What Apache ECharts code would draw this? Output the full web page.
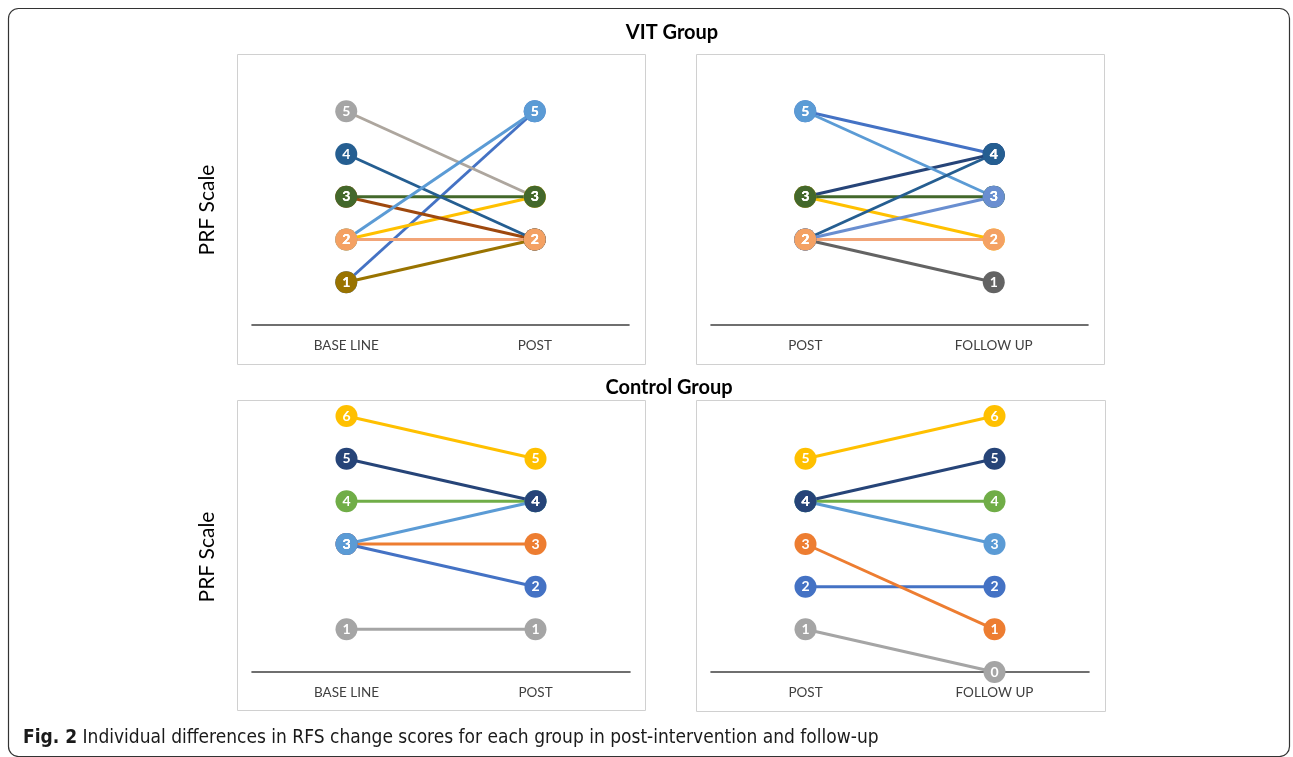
<!DOCTYPE html>
<html>
<head>
<meta charset="utf-8">
<script src="https://cdn.jsdelivr.net/npm/echarts@6/dist/echarts.min.js"></script>
<style>
html,body{margin:0;padding:0;background:#fff;}
#chart{width:1293px;height:757px;}
</style>
</head>
<body>
<div id="chart"></div>
<script>
// ---------- DATA ----------
const catBasePost = ['BASE LINE', 'POST'];
const catPostFollow = ['POST', 'FOLLOW UP'];

// VIT group: baseline -> post (one pair per participant line)
const vitBasePost = [[1,5],[1,2],[5,3],[2,3],[3,2],[3,3],[4,2],[2,5],[2,2]];
// VIT group: post -> follow up
const vitPostFollow = [[5,4],[3,4],[3,2],[2,1],[5,3],[3,3],[2,4],[2,3],[2,2]];
// Control group: baseline -> post
const ctrlBasePost = [[1,1],[6,5],[4,4],[3,3],[3,2],[3,4],[5,4]];
// Control group: post -> follow up
const ctrlPostFollow = [[1,0],[2,2],[3,1],[5,6],[4,4],[4,3],[4,5]];

const yMin = 0, yMax = 6;

// ---------- STYLES ----------
const vitBasePostColors = ['#4472C4','#997300','#A5A5A5','#FFC000','#9E480E','#43682B','#255E91','#5B9BD5','#F4A163'];
const vitBasePostLineColors = [null,null,'#ADA69E',null,null,null,null,null,'#F2A477'];
const vitPostFollowColors = ['#4472C4','#264478','#FFC000','#636363','#5B9BD5','#43682B','#255E91','#698ED0','#F4A163'];
const vitPostFollowLineColors = [null,null,null,null,null,null,null,null,'#F2A477'];
const ctrlBasePostColors = ['#A5A5A5','#FFC000','#70AD47','#ED7D31','#4472C4','#5B9BD5','#264478'];
const ctrlPostFollowColors = ['#A5A5A5','#4472C4','#ED7D31','#FFC000','#70AD47','#5B9BD5','#264478'];

const FONT = 'Lato';
const CAPFONT = '"Liberation Sans Narrow", "DejaVu Sans Condensed", sans-serif';
const grids = [
  {left: 252, top: 68.5, width: 377, height: 256.5},
  {left: 711, top: 68.5, width: 377, height: 256.5},
  {left: 252, top: 416, width: 378, height: 256},
  {left: 711, top: 416, width: 378, height: 256}
];
const panelCats = [catBasePost, catPostFollow, catBasePost, catPostFollow];
const panelData = [vitBasePost, vitPostFollow, ctrlBasePost, ctrlPostFollow];
const panelColors = [vitBasePostColors, vitPostFollowColors, ctrlBasePostColors, ctrlPostFollowColors];
const panelLineColors = [vitBasePostLineColors, vitPostFollowLineColors, [], []];

const xAxes = panelCats.map((cats, i) => ({
  type: 'category', gridIndex: i, data: cats, boundaryGap: true,
  axisLine: {show: true, lineStyle: {color: '#404040', width: 1.6}},
  axisTick: {show: false},
  axisLabel: {margin: 14, fontSize: 13.5, color: '#404040', fontFamily: FONT},
  splitLine: {show: false}
}));
const yAxes = panelCats.map((c, i) => ({
  type: 'value', gridIndex: i, min: yMin, max: yMax, show: false, splitLine: {show: false}
}));

const series = [];
panelData.forEach((pairs, p) => {
  pairs.forEach((pair, j) => {
    const col = panelColors[p][j];
    const lc = (panelLineColors[p] && panelLineColors[p][j]) || col;
    series.push({
      type: 'line', xAxisIndex: p, yAxisIndex: p, data: pair,
      symbol: 'circle', symbolSize: 22, clip: false,
      itemStyle: {color: col, borderWidth: 0},
      lineStyle: {color: lc, width: 3},
      label: {show: true, position: 'inside', color: '#fff', fontWeight: 'bold', fontSize: 14, fontFamily: FONT},
      emphasis: {disabled: true},
      silent: true
    });
  });
});

const panelBoxes = [
  {x: 237, y: 54, w: 408, h: 310},
  {x: 696, y: 54, w: 408, h: 310},
  {x: 237, y: 400, w: 408, h: 310},
  {x: 696, y: 400, w: 409, h: 311}
];

const graphic = [
  {type: 'rect', shape: {x: 8.5, y: 8.5, width: 1281, height: 748, r: 10}, style: {fill: 'none', stroke: '#333', lineWidth: 1.2}, z: -10},
  ...panelBoxes.map(b => ({type: 'rect', shape: {x: b.x + 0.5, y: b.y + 0.5, width: b.w, height: b.h}, style: {fill: 'none', stroke: '#D0D0D0', lineWidth: 1}, z: -5})),
  {type: 'text', x: 672, y: 33, style: {text: 'VIT Group', font: 'bold 20px ' + FONT, fill: '#000', textAlign: 'center', textVerticalAlign: 'middle'}},
  {type: 'text', x: 669, y: 388, style: {text: 'Control Group', font: 'bold 20px ' + FONT, fill: '#000', textAlign: 'center', textVerticalAlign: 'middle'}},
  {type: 'text', x: 207, y: 210, rotation: Math.PI / 2, style: {text: 'PRF Scale', font: '21px ' + FONT, fill: '#000', textAlign: 'center', textVerticalAlign: 'middle'}},
  {type: 'text', x: 207, y: 557, rotation: Math.PI / 2, style: {text: 'PRF Scale', font: '21px ' + FONT, fill: '#000', textAlign: 'center', textVerticalAlign: 'middle'}},
  {type: 'text', x: 23, y: 738, style: {
    text: '{b|Fig. 2}{n| Individual differences in RFS change scores for each group in post-intervention and follow-up}',
    rich: {
      b: {font: 'bold 19px ' + CAPFONT, fill: '#1a1a1a'},
      n: {font: '19px ' + CAPFONT, fill: '#1a1a1a'}
    },
    textVerticalAlign: 'middle'
  }}
];

const chart = echarts.init(document.getElementById('chart'), null, {renderer: 'canvas'});
chart.setOption({
  animation: false,
  backgroundColor: '#fff',
  grid: grids,
  xAxis: xAxes,
  yAxis: yAxes,
  series: series,
  graphic: graphic
});
</script>
</body>
</html>
